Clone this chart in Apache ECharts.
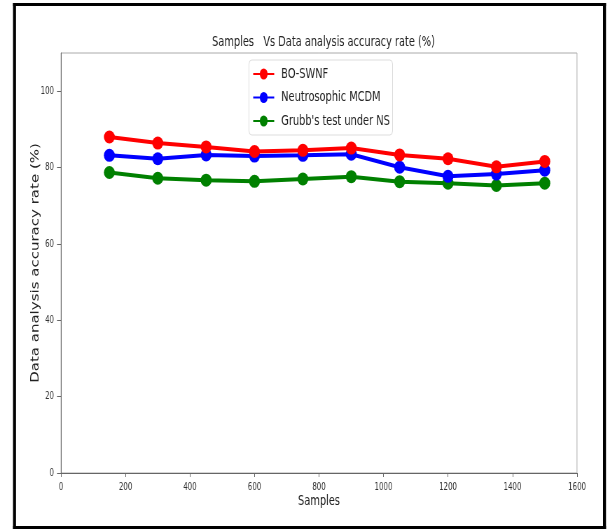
<!DOCTYPE html>
<html>
<head>
<meta charset="utf-8">
<script src="https://cdn.jsdelivr.net/npm/echarts@6/dist/echarts.min.js"></script>
<style>
html,body{margin:0;padding:0;background:#fff;width:610px;height:530px;overflow:hidden;}
#c{width:871px;height:530px;transform:scaleX(0.700344);transform-origin:0 0;}
</style>
</head>
<body>
<div id="c"></div>
<script>
const samples = [150, 300, 450, 600, 750, 900, 1050, 1200, 1350, 1500];
const boSwnf = [88.0, 86.4, 85.4, 84.2, 84.5, 85.1, 83.3, 82.3, 80.2, 81.6];
const neutroMcdm = [83.2, 82.3, 83.3, 83.0, 83.2, 83.5, 80.1, 77.7, 78.3, 79.3];
const grubbsNs = [78.7, 77.2, 76.7, 76.4, 77.0, 77.6, 76.3, 75.9, 75.3, 75.9];
const seriesNames = ['BO-SWNF', 'Neutrosophic MCDM', "Grubb's test under NS"];
const xTicks = [0, 200, 400, 600, 800, 1000, 1200, 1400, 1600];
const yTicks = [0, 20, 40, 60, 80, 100];

// the reference figure is horizontally compressed; the chart is drawn wider and squeezed by CSS
const F = 610 / 871;
const sx = v => v / F;
const font = '"DejaVu Sans", sans-serif';
const colors = ['#ff0000', '#0000ff', '#008000'];
const values = [boSwnf, neutroMcdm, grubbsNs];

const chart = echarts.init(document.getElementById('c'), null, {renderer: 'canvas', width: 871, height: 530});
const B = 3;
chart.setOption({
  animation: false,
  backgroundColor: '#fff',
  title: {
    text: 'Samples   Vs Data analysis accuracy rate (%)',
    left: sx(320), top: 30, textAlign: 'center',
    textStyle: {fontFamily: font, fontSize: 14, fontWeight: 'normal', color: '#222'}
  },
  graphic: [
    {type: 'rect', shape: {x: sx(13), y: 3, width: sx(606) - sx(13), height: B}, style: {fill: '#000'}, silent: true},
    {type: 'rect', shape: {x: sx(13), y: 526, width: sx(606) - sx(13), height: B}, style: {fill: '#000'}, silent: true},
    {type: 'rect', shape: {x: sx(13), y: 3, width: sx(B), height: 526}, style: {fill: '#000'}, silent: true},
    {type: 'rect', shape: {x: sx(606 - B), y: 3, width: sx(B), height: 526}, style: {fill: '#000'}, silent: true}
  ],
  legend: {
    orient: 'vertical', left: sx(249), top: 60,
    backgroundColor: '#fff', borderColor: '#ddd', borderWidth: 1, borderRadius: 4,
    padding: [7, 4, 7, 5], itemGap: 9.5, itemWidth: 30, itemHeight: 14,
    textStyle: {fontFamily: font, fontSize: 14, color: '#222', padding: [0, 0, 0, 5]},
    data: seriesNames
  },
  grid: {left: sx(61), right: 871 - sx(577), top: 53, bottom: 57, show: true, borderColor: '#aaa', borderWidth: 1, containLabel: false},
  xAxis: {
    type: 'value', min: 0, max: 1600, interval: 200,
    name: 'Samples', nameLocation: 'middle', nameGap: 21, nameMoveOverlap: false,
    nameTextStyle: {fontFamily: font, fontSize: 14, color: '#222'},
    axisLine: {show: true, lineStyle: {color: '#666', width: 1}},
    axisTick: {show: true, length: 4, lineStyle: {color: '#666'}, customValues: xTicks},
    axisLabel: {fontFamily: font, fontSize: 10, color: '#333', margin: 9, customValues: xTicks,
      formatter: v => String(v)},
    splitLine: {show: false}
  },
  yAxis: {
    type: 'value', min: 0, max: 110, interval: 10,
    name: 'Data analysis accuracy rate (%)', nameLocation: 'middle', nameGap: 28, nameMoveOverlap: false,
    nameTextStyle: {fontFamily: font, fontSize: 15, color: '#222'},
    axisLine: {show: true, lineStyle: {color: '#666', width: 1}},
    axisTick: {show: true, length: sx(4), lineStyle: {color: '#666'}, customValues: yTicks},
    axisLabel: {fontFamily: font, fontSize: 10, color: '#333', margin: sx(7), customValues: yTicks,
      formatter: v => String(v)},
    splitLine: {show: false}
  },
  series: seriesNames.map((n, i) => ({
    name: n, type: 'line',
    data: samples.map((s, j) => [s, values[i][j]]),
    symbol: 'circle', symbolSize: [sx(11), 13],
    itemStyle: {color: colors[i]},
    lineStyle: {color: colors[i], width: 4},
    z: 3 - i
  }))
});
</script>
</body>
</html>
